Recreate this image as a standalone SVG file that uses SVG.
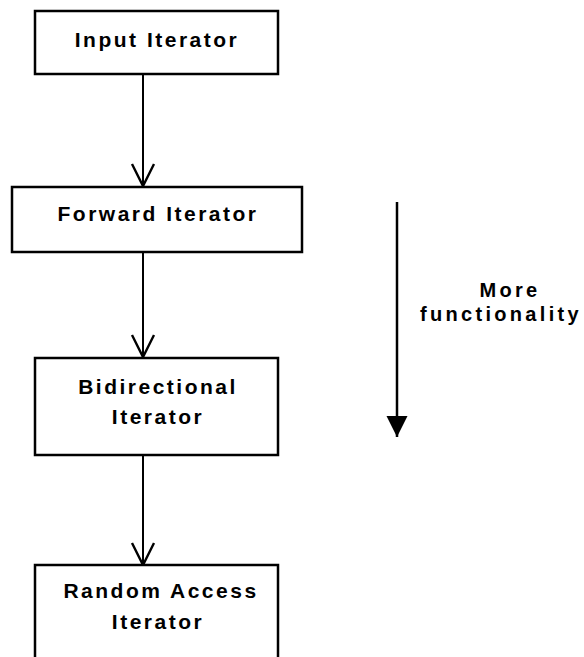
<svg xmlns="http://www.w3.org/2000/svg" width="584" height="657" viewBox="0 0 584 657">
  <style>
    .box { fill: #fff; stroke: #000; stroke-width: 2.5; }
    .lbl { font-family: "Liberation Sans", Arial, sans-serif; font-weight: bold; font-size: 21px; letter-spacing: 2.5px; text-anchor: middle; fill: #000; }
    .note { font-size: 20px; letter-spacing: 3.3px; }
    .edge { fill: none; stroke: #000; stroke-width: 2; }
  </style>
  <defs>
    <!-- open V head for the hierarchy links -->
    <marker id="vee" markerUnits="userSpaceOnUse" markerWidth="26" markerHeight="26" refX="23" refY="13" orient="auto" viewBox="0 0 26 26">
      <path d="M1,2 L23,13 L1,24" fill="none" stroke="#000" stroke-width="2.4"/>
    </marker>
    <!-- filled head for the functionality axis -->
    <marker id="solid" markerUnits="userSpaceOnUse" markerWidth="24" markerHeight="24" refX="22" refY="12" orient="auto" viewBox="0 0 24 24">
      <path d="M1,1.5 L22,12 L1,22.5 Z" fill="#000"/>
    </marker>
  </defs>

  <rect width="584" height="657" fill="#fff"/>

  <g id="connectors">
    <line class="edge" x1="143" y1="74" x2="143" y2="186" marker-end="url(#vee)"/>
    <line class="edge" x1="143" y1="252" x2="143" y2="357" marker-end="url(#vee)"/>
    <line class="edge" x1="143" y1="455" x2="143" y2="565" marker-end="url(#vee)"/>
  </g>

  <g id="input-iterator">
    <rect class="box" x="35" y="11" width="243" height="63"/>
    <text class="lbl" x="157" y="47">Input Iterator</text>
  </g>

  <g id="forward-iterator">
    <rect class="box" x="12" y="187" width="290" height="65"/>
    <text class="lbl" x="158" y="221">Forward Iterator</text>
  </g>

  <g id="bidirectional-iterator">
    <rect class="box" x="35" y="358" width="243" height="97"/>
    <text class="lbl" x="158" y="394">Bidirectional</text>
    <text class="lbl" x="158" y="424">Iterator</text>
  </g>

  <g id="random-access-iterator">
    <rect class="box" x="35" y="565" width="243" height="110"/>
    <text class="lbl" x="161" y="598">Random Access</text>
    <text class="lbl" x="158" y="629">Iterator</text>
  </g>

  <g id="functionality-axis">
    <line x1="397" y1="202" x2="397" y2="437" stroke="#000" stroke-width="2.5" marker-end="url(#solid)"/>
    <text class="lbl note" x="510" y="297">More</text>
    <text class="lbl note" x="501" y="321">functionality</text>
  </g>
</svg>
